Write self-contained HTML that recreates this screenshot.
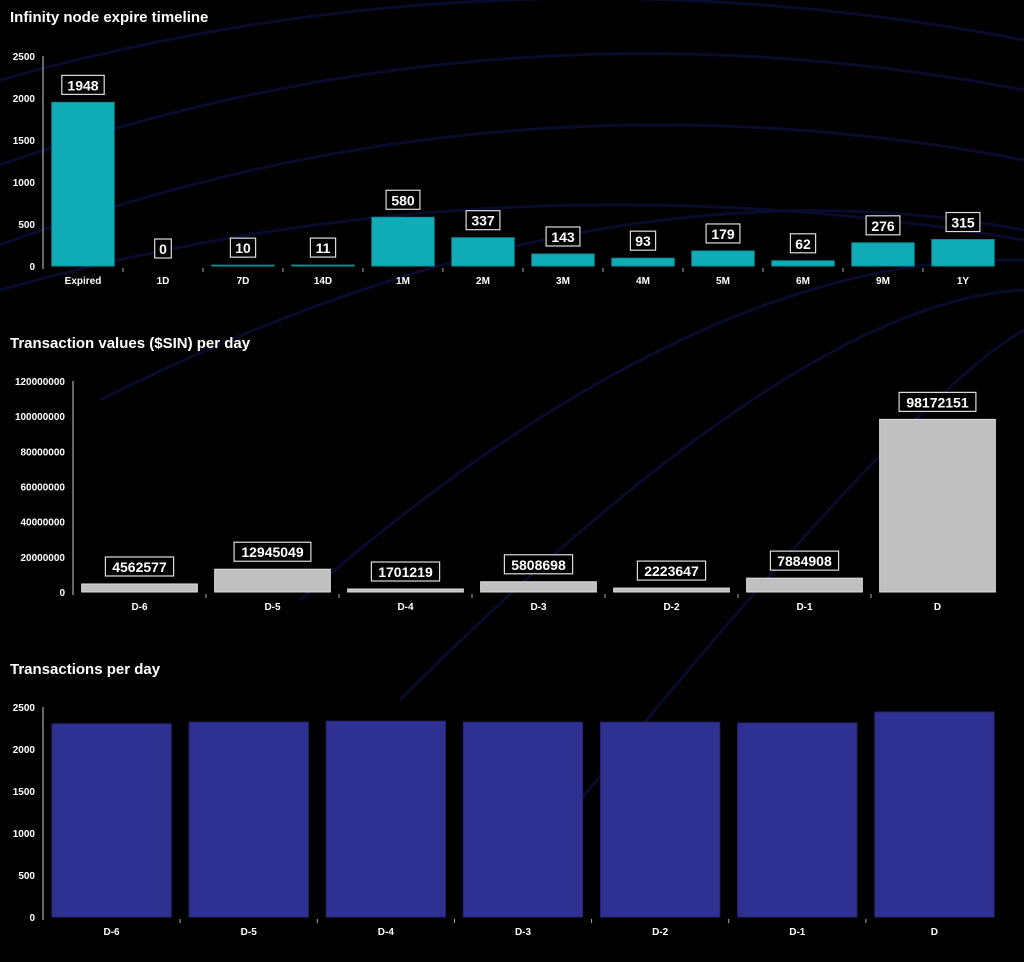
<!DOCTYPE html>
<html><head><meta charset="utf-8"><style>
html,body{margin:0;padding:0;background:#000;}
svg{display:block;font-family:"Liberation Sans","DejaVu Sans",sans-serif;}
.t{fill:#fff;font-size:15px;font-weight:bold;}
.tk{fill:#fff;font-size:10px;font-weight:bold;}
</style></head><body>
<svg id="s" width="1024" height="962" viewBox="0 0 1024 962">
<g id="bg" fill="none" stroke="#080b2c" stroke-width="3">
<path d="M0 80 Q500 -60 1024 40"/>
<path d="M0 165 Q500 -10 1024 90"/>
<path d="M0 245 Q500 60 1024 160"/>
<path d="M0 290 Q500 150 1024 240"/>
<path d="M300 600 Q700 250 1024 260"/>
<path d="M400 700 Q800 300 1024 290"/>
<path d="M500 900 Q900 400 1024 330"/>
<path d="M100 400 Q600 150 1024 230"/>
</g>
<text class="t" x="10" y="22">Infinity node expire timeline</text>
<text class="t" x="10" y="348">Transaction values ($SIN) per day</text>
<text class="t" x="10" y="674">Transactions per day</text>
<g id="c1"></g><g id="c2"></g><g id="c3"></g>
</svg>
<script>
const cats1=["Expired","1D","7D","14D","1M","2M","3M","4M","5M","6M","9M","1Y"];
const vals1=[1948,0,10,11,580,337,143,93,179,62,276,315];
const ticks1=[0,500,1000,1500,2000,2500];
const cats2=["D-6","D-5","D-4","D-3","D-2","D-1","D"];
const vals2=[4562577,12945049,1701219,5808698,2223647,7884908,98172151];
const ticks2=[0,20000000,40000000,60000000,80000000,100000000,120000000];
const cats3=["D-6","D-5","D-4","D-3","D-2","D-1","D"];
const vals3=[2300,2320,2332,2320,2320,2310,2440];
const ticks3=[0,500,1000,1500,2000,2500];
const NS="http://www.w3.org/2000/svg";
function mk(tag,at,parent){const e=document.createElementNS(NS,tag);for(const k in at)e.setAttribute(k,at[k]);parent.appendChild(e);return e;}
function chart(g,cats,vals,ticks,o){
  const y=v=>o.y0-(v/o.max)*(o.y0-o.yTop);
  const bw=(o.x1-o.x0)/cats.length;
  const ax=mk('line',{x1:o.x0,x2:o.x0,y1:o.yTop,y2:o.y0+3,stroke:'#888','stroke-width':1.5},g);
  
  
  ticks.forEach(t=>{
    const tx=mk('text',{x:o.x0-8,y:y(t)+4,'text-anchor':'end',class:'tk'},g);
    tx.textContent=t;
    
    
  });
  cats.forEach((c,i)=>{
    const bx=o.x0+i*bw;
    if(i>0){const tk=mk('line',{x1:bx,x2:bx,y1:o.y0+2,y2:o.y0+6,stroke:'#aaa'},g);
      
      }
    const pad=bw*o.pad;
    const top=y(vals[i]);
    const r=mk('rect',{x:bx+pad,y:top,width:bw-2*pad,height:Math.max(0,o.y0-top),fill:o.fill,stroke:o.stroke,'stroke-width':1},g);
    
    
    const lx=mk('text',{x:bx+bw/2,y:o.y0+18,'text-anchor':'middle',class:'tk'},g);
    lx.textContent=c;
    
    
    if(o.labels){
      const s=String(vals[i]);
      const w=s.length*8.6+8;
      const by=top-27;
      const bx2=mk('rect',{x:bx+bw/2-w/2,y:by,width:w,height:19,fill:'#000',stroke:'#ddd','stroke-width':1.2},g);
      
      
      const vt=mk('text',{x:bx+bw/2,y:by+15,'text-anchor':'middle',fill:'#fff','font-size':'14px','font-weight':'bold'},g);
      vt.textContent=s;
      
      
    }
  });
}
chart(document.getElementById('c1'),cats1,vals1,ticks1,{x0:43,x1:1003,y0:266,yTop:56,max:2500,pad:0.11,fill:'#10adb9',stroke:'#0d8f99',labels:true});
chart(document.getElementById('c2'),cats2,vals2,ticks2,{x0:73,x1:1004,y0:592,yTop:381,max:120000000,pad:0.065,fill:'#c0c0c0',stroke:'#e0e0e0',labels:true});
chart(document.getElementById('c3'),cats3,vals3,ticks3,{x0:43,x1:1003,y0:917,yTop:707,max:2500,pad:0.065,fill:'#2e3192',stroke:'#23266e',labels:false});
</script>
</body></html>
